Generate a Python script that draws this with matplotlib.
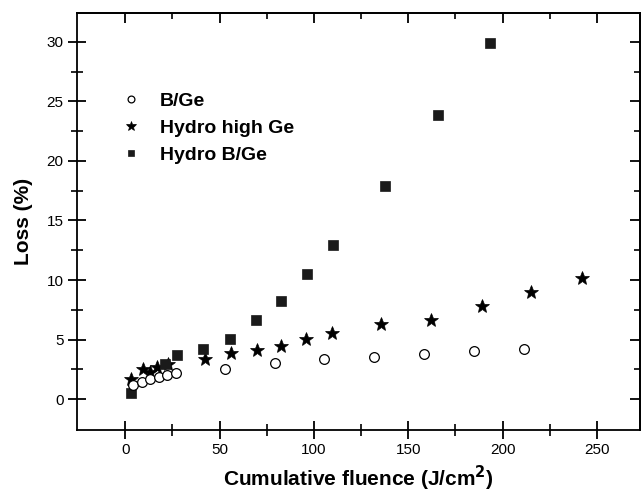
import matplotlib
matplotlib.use("Agg")
import matplotlib.pyplot as plt
from matplotlib.ticker import MultipleLocator, FixedLocator

plt.rcParams['font.family'] = ['Liberation Sans', 'DejaVu Sans']

# Data
bge_x = [4.4, 8.8, 13.2, 17.7, 22.1, 26.7, 52.8, 79.3, 105.6, 132.0, 158.5, 184.7, 211.3]
bge_y = [1.15, 1.43, 1.66, 1.85, 2.05, 2.2, 2.55, 3.06, 3.34, 3.56, 3.76, 4.01, 4.18]

hhg_x = [3.0, 9.4, 13.2, 16.8, 22.9, 42.4, 56.1, 69.7, 82.4, 95.9, 109.5, 135.4, 162.1, 188.9, 215.0, 242.2]
hhg_y = [1.66, 2.55, 2.27, 2.7, 2.97, 3.34, 3.88, 4.16, 4.47, 5.08, 5.59, 6.29, 6.68, 7.78, 8.96, 10.19]

hbg_x = [3.0, 21.2, 27.7, 41.5, 55.4, 69.3, 82.8, 96.5, 110.3, 137.7, 165.6, 193.5]
hbg_y = [0.53, 2.97, 3.68, 4.24, 5.03, 6.67, 8.25, 10.47, 12.95, 17.9, 23.9, 29.9]

labels = ["B/Ge", "Hydro high Ge", "Hydro B/Ge"]

fig = plt.figure(figsize=(6.44, 4.98), dpi=100)
ax = fig.add_axes([0.1193, 0.1365, 0.9938 - 0.1193, 0.9733 - 0.1365])

h2, = ax.plot(hhg_x, hhg_y, linestyle='none', marker='*', markersize=10,
              color='black', markeredgewidth=0.5, zorder=3)
h3, = ax.plot(hbg_x, hbg_y, linestyle='none', marker='s', markersize=6.5,
              color='#1a1a1a', markeredgewidth=0.5, zorder=3)
h1, = ax.plot(bge_x, bge_y, linestyle='none', marker='o', markersize=7,
              markerfacecolor='white', markeredgecolor='black',
              markeredgewidth=0.9, zorder=4)

ax.set_xlim(-25.6, 272.8)
ax.set_ylim(-2.6, 32.4)

ax.xaxis.set_major_locator(MultipleLocator(50))
ax.xaxis.set_minor_locator(FixedLocator([25, 75, 125, 175, 225]))
ax.yaxis.set_major_locator(MultipleLocator(5))
ax.yaxis.set_minor_locator(FixedLocator([2.5, 7.5, 12.5, 17.5, 22.5, 27.5]))

for s in ax.spines.values():
    s.set_linewidth(1.3)

ax.tick_params(which='major', direction='inout', length=13, width=1.3,
               labelsize=11, pad=3)
ax.tick_params(which='minor', direction='inout', length=8, width=1.2)

# inward ticks on top and right
top = ax.secondary_xaxis('top')
top.xaxis.set_major_locator(MultipleLocator(50))
top.xaxis.set_minor_locator(FixedLocator([25, 75, 125, 175, 225]))
top.tick_params(which='major', direction='in', length=7, width=1.3, labeltop=False)
top.tick_params(which='minor', direction='in', length=4, width=1.2)
top.spines['top'].set_linewidth(1.3)

right = ax.secondary_yaxis('right')
right.yaxis.set_major_locator(MultipleLocator(5))
right.yaxis.set_minor_locator(FixedLocator([2.5, 7.5, 12.5, 17.5, 22.5, 27.5]))
right.tick_params(which='major', direction='in', length=7, width=1.3, labelright=False)
right.tick_params(which='minor', direction='in', length=4, width=1.2)
right.spines['right'].set_linewidth(1.3)

ax.set_xlabel("Cumulative fluence (J/cm$^{\\mathbf{2}}$)", fontsize=15, fontweight='bold', labelpad=5)
ax.set_ylabel("Loss (%)", fontsize=15, fontweight='bold', labelpad=10)

leg = ax.legend([h1, h2, h3], labels, loc='upper left', bbox_to_anchor=(0.065, 0.83),
                frameon=False, markerscale=0.7, handlelength=1.0, handletextpad=1.0,
                labelspacing=0.5, borderaxespad=0, prop={'weight': 'bold', 'size': 14})

fig.savefig("out.png", dpi=100)
